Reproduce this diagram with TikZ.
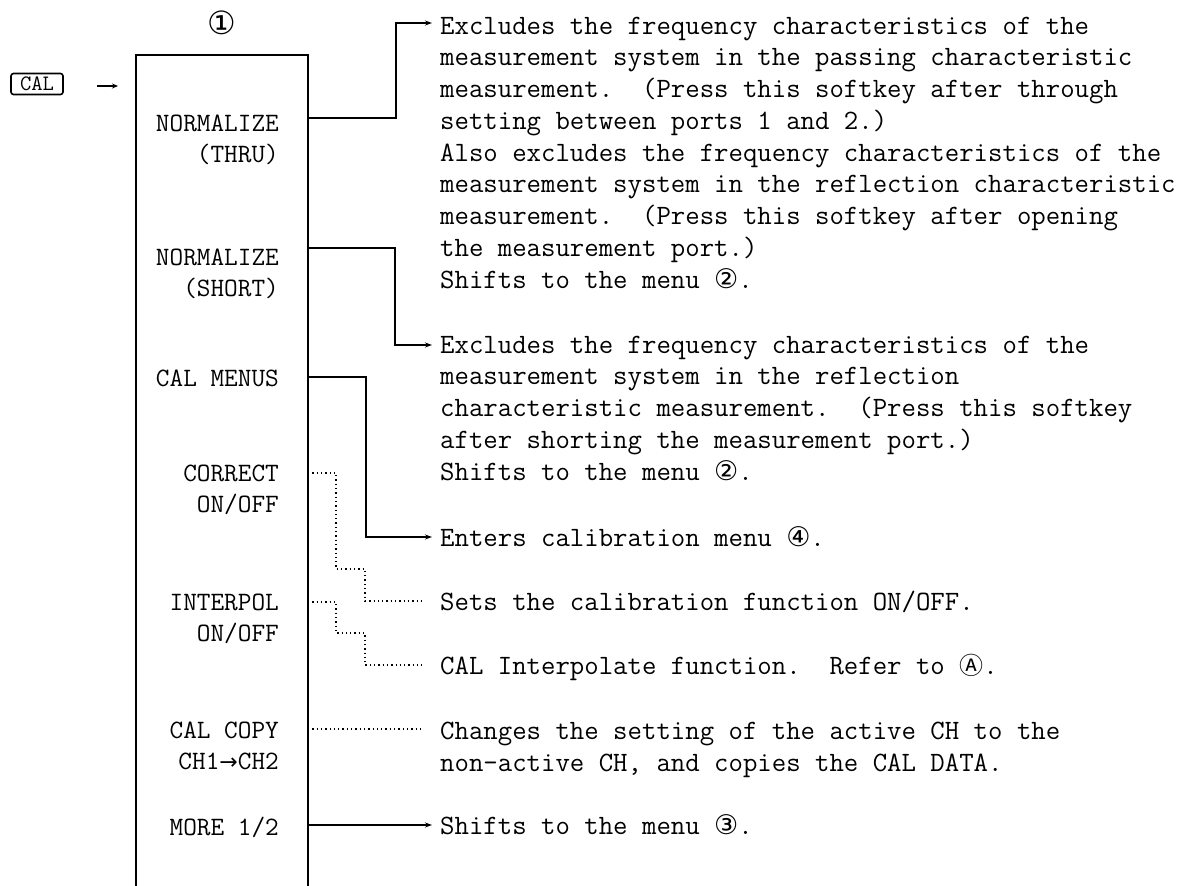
\documentclass[tikz,border=0pt]{standalone}
\usepackage{fontspec}
\newfontfamily\symfont{DejaVu Sans}
\newfontfamily\cjkfont{Noto Sans CJK SC}
\usetikzlibrary{arrows.meta}
\newcommand\descfont{\fontsize{28}{31.75}\selectfont\ttfamily}
\newcommand\labfont{\fontsize{26.5}{31}\selectfont\ttfamily}
\newcommand\cn[1]{{\fontsize{27}{27}\selectfont\symfont #1}}
\begin{document}
\begin{tikzpicture}[x=1pt,y=-1pt,
  desc/.style={anchor=base west, align=left, inner sep=0pt, font=\descfont},
  lab/.style={anchor=base east, align=right, inner sep=0pt, font=\labfont},
  conn/.style={line width=1.2pt},
  dotconn/.style={line width=1.3pt, dash pattern=on 1.3pt off 3pt},
  arr/.style={-{Stealth[length=7pt,width=5pt]}}]
\useasboundingbox (0,0) rectangle (1179,886);
% menu box (open at the bottom)
\coordinate (bl) at (136,886);
\coordinate (tl) at (136,55);
\coordinate (tr) at (308,55);
\coordinate (br) at (308,886);
\draw[conn] (bl) -- (tl) -- (tr) -- (br);
\node[font=\fontsize{32}{32}\selectfont\symfont] (m1) at (222,23) {①};
% CAL key
\node[draw, line width=1.6pt, rounded corners=2.5pt, minimum width=52pt, minimum height=21pt, inner sep=0pt,
      font=\fontsize{22}{22}\selectfont\ttfamily] (cal) at (37,84) {CAL};
\coordinate (ca1) at (97,86);
\coordinate (ca2) at (118,86);
\draw[line width=1.1pt, -{Stealth[length=6pt,width=5pt]}] (ca1) -- (ca2);
% softkey labels (anchored at the baseline of their last line)
\node[lab] (thru) at (279,162) {NORMALIZE\\(THRU)};
\node[lab] (short) at (279,296) {NORMALIZE\\(SHORT)};
\node[lab] (calm) at (279,386) {CAL MENUS};
\node[lab] (corr) at (279,512) {CORRECT\\ON/OFF};
\node[lab] (interp) at (279,641) {INTERPOL\\ON/OFF};
\node[lab] (copy) at (279,769) {CAL COPY\\CH1{\fontsize{22}{22}\selectfont\symfont →}CH2};
\node[lab] (more) at (279,835) {MORE 1/2};
% descriptions (anchored at the baseline of their last line)
\node[desc] (d1) at (440,288) {Excludes the frequency characteristics of the\\
measurement system in the passing characteristic\\
measurement.\ \ (Press this softkey after through\\
setting between ports 1 and 2.)\\
Also excludes the frequency characteristics of the\\
measurement system in the reflection characteristic\\
measurement.\ \ (Press this softkey after opening\\
the measurement port.)\\
Shifts to the menu \cn{②}.};
\node[desc] (d2) at (440,480) {Excludes the frequency characteristics of the\\
measurement system in the reflection\\
characteristic measurement.\ \ (Press this softkey\\
after shorting the measurement port.)\\
Shifts to the menu \cn{②}.};
\node[desc] (d3) at (440,546) {Enters calibration menu \cn{④}.};
\node[desc] (d4) at (440,610) {Sets the calibration function ON/OFF.};
\node[desc] (d5) at (440,674) {CAL Interpolate function.\ \ Refer to {\fontsize{24}{24}\selectfont\cjkfont Ⓐ}.};
\node[desc] (d6) at (440,771) {Changes the setting of the active CH to the\\
non-active CH, and copies the CAL DATA.};
\node[desc] (d7) at (440,834) {Shifts to the menu \cn{③}.};
% connector ports on the box edge
\coordinate (p1) at (308,118);
\coordinate (p2) at (308,248);
\coordinate (p3) at (308,377);
\coordinate (p4) at (308,473);
\coordinate (p5) at (308,602);
\coordinate (p6) at (308,729);
\coordinate (p7) at (308,825);
% connector ends beside the descriptions
\coordinate (e1) at (432,23);
\coordinate (e2) at (432,345);
\coordinate (e3) at (432,537);
\coordinate (e4) at (422,601);
\coordinate (e5) at (422,665);
\coordinate (e6) at (422,729);
\coordinate (e7) at (432,825);
\draw[conn, arr] (p1) -- (396,118) -- (396,23) -- (e1);
\draw[conn, arr] (p2) -- (395,248) -- (395,345) -- (e2);
\draw[conn, arr] (p3) -- (366,377) -- (366,537) -- (e3);
\draw[dotconn] (p4) -- (336,473) -- (336,569) -- (365,569) -- (365,601) -- (e4);
\draw[dotconn] (p5) -- (336,602) -- (336,633) -- (365,633) -- (365,665) -- (e5);
\draw[dotconn] (p6) -- (e6);
\draw[conn, arr] (p7) -- (e7);
\end{tikzpicture}
\end{document}
